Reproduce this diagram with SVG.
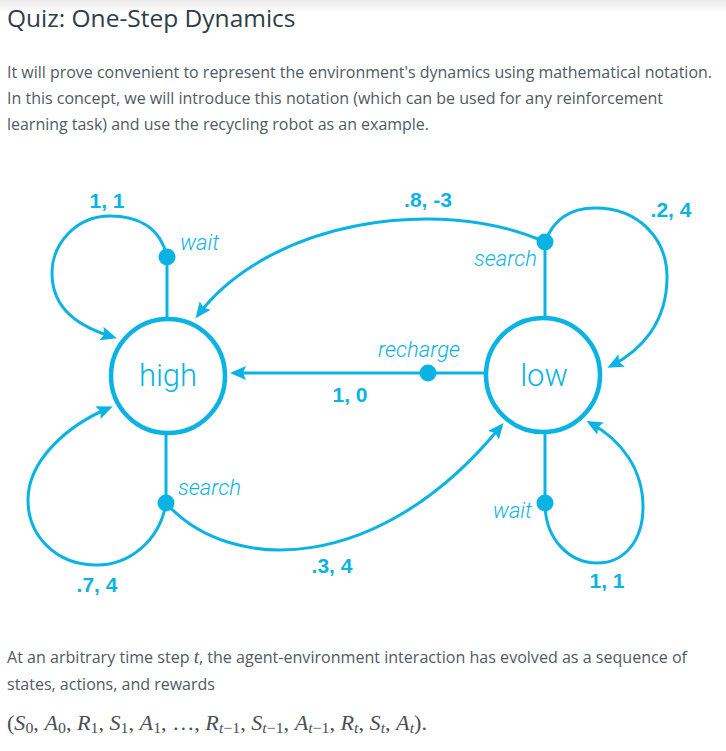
<svg xmlns="http://www.w3.org/2000/svg" width="726" height="751" viewBox="0 0 726 751">
<defs>
<linearGradient id="topshade" x1="0" y1="0" x2="0" y2="1">
<stop offset="0" stop-color="#ececec"/>
<stop offset="1" stop-color="#ffffff"/>
</linearGradient>
<marker id="ah" markerUnits="userSpaceOnUse" markerWidth="16" markerHeight="14" viewBox="0 0 16 14" refX="12" refY="7" orient="auto">
<path d="M0,0 L16,7 L0,14 L3,7 z" fill="#0bb3e4"/>
</marker>
<style>
.title{font-family:"Open Sans","Liberation Sans",sans-serif;font-size:24.5px;font-weight:500;fill:#2e3d49}
.body{font-family:"Open Sans","Liberation Sans",sans-serif;font-size:16px;fill:#4f5a64}
.mi{font-family:"Liberation Serif","DejaVu Serif",serif;font-style:italic}
.mr{font-family:"Liberation Serif","DejaVu Serif",serif}
.math{font-family:"Liberation Serif","DejaVu Serif",serif;font-size:21px;fill:#4a4f55}
.sub{font-size:15px}
.edge{fill:none;stroke:#0bb3e4;stroke-width:3}
.arr{marker-end:url(#ah)}
.state{fill:#ffffff;stroke:#0bb3e4;stroke-width:4.5}
.dot{fill:#0bb3e4}
.sname{font-family:Roboto,"Liberation Sans",sans-serif;font-weight:300;font-size:31px;fill:#0bb3e4;text-anchor:middle}
.act{font-family:Roboto,"Liberation Sans",sans-serif;font-weight:300;font-style:italic;font-size:22px;fill:#0bb3e4}
.lbl{font-family:"Liberation Sans",Arial,sans-serif;font-weight:bold;font-size:21px;fill:#0bb3e4;text-anchor:middle}
</style>
</defs>
<rect x="0" y="0" width="726" height="751" fill="#ffffff"/>
<rect x="0" y="0" width="726" height="14" fill="url(#topshade)"/>

<text class="title" x="7" y="27">Quiz: One-Step Dynamics</text>
<text class="body" x="7" y="78" textLength="705" lengthAdjust="spacingAndGlyphs">It will prove convenient to represent the environment's dynamics using mathematical notation.</text>
<text class="body" x="7" y="104" textLength="656" lengthAdjust="spacingAndGlyphs">In this concept, we will introduce this notation (which can be used for any reinforcement</text>
<text class="body" x="7" y="130" textLength="422" lengthAdjust="spacingAndGlyphs">learning task) and use the recycling robot as an example.</text>

<g id="connectors">
<line class="edge" x1="167" y1="257" x2="167" y2="319"/>
<line class="edge" x1="545" y1="242" x2="545" y2="318"/>
<line class="edge" x1="166" y1="503" x2="166" y2="433"/>
<line class="edge" x1="545" y1="503" x2="545" y2="432"/>
<path class="edge arr" d="M167,257 C160,225 135,216 110,216 C75,216 52,245 52,273 C52,310 80,327 113,337"/>
<path class="edge arr" d="M545,242 C440,195 270,220 198,315"/>
<path class="edge arr" d="M545,242 C555,215 575,208 595,208 C640,208 667,240 667,277 C667,322 642,350 611,366"/>
<path class="edge arr" d="M484,373 L234,373"/>
<path class="edge arr" d="M166,503 C160,540 130,565 97,565 C55,565 28,535 28,500 C28,460 68,425 109,408"/>
<path class="edge arr" d="M166,503 C230,575 380,575 501,426"/>
<path class="edge arr" d="M545,503 C545,540 570,563 597,563 C625,563 643,540 643,507 C643,470 622,440 590,423"/>
<circle class="dot" cx="167" cy="257" r="8.5"/>
<circle class="dot" cx="545" cy="242" r="8.5"/>
<circle class="dot" cx="428" cy="373" r="8.5"/>
<circle class="dot" cx="166" cy="503" r="8.5"/>
<circle class="dot" cx="545" cy="503" r="8.5"/>
<text class="act" x="180" y="250">wait</text>
<text class="act" x="537" y="266" text-anchor="end">search</text>
<text class="act" x="419" y="357" text-anchor="middle">recharge</text>
<text class="act" x="178" y="495">search</text>
<text class="act" x="532" y="518" text-anchor="end">wait</text>
<text class="lbl" x="107" y="208">1, 1</text>
<text class="lbl" x="428" y="207">.8, -3</text>
<text class="lbl" x="671" y="217">.2, 4</text>
<text class="lbl" x="350" y="402">1, 0</text>
<text class="lbl" x="97" y="592">.7, 4</text>
<text class="lbl" x="332" y="573">.3, 4</text>
<text class="lbl" x="607" y="588">1, 1</text>
</g>

<g id="node-high">
<circle class="state" cx="168" cy="376" r="57"/>
<text class="sname" x="168" y="386">high</text>
</g>
<g id="node-low">
<circle class="state" cx="543" cy="375" r="57"/>
<text class="sname" x="544" y="386">low</text>
</g>

<text class="body" x="7" y="663" textLength="680" lengthAdjust="spacingAndGlyphs">At an arbitrary time step <tspan class="mi" font-size="19">t</tspan>, the agent-environment interaction has evolved as a sequence of</text>
<text class="body" x="7" y="690">states, actions, and rewards</text>

<text class="math" x="7" y="730" textLength="420" lengthAdjust="spacingAndGlyphs"><tspan class="mr">(</tspan><tspan class="mi">S</tspan><tspan class="sub mr" dy="3">0</tspan><tspan dy="-3">, </tspan><tspan class="mi">A</tspan><tspan class="sub mr" dy="3">0</tspan><tspan dy="-3">, </tspan><tspan class="mi">R</tspan><tspan class="sub mr" dy="3">1</tspan><tspan dy="-3">, </tspan><tspan class="mi">S</tspan><tspan class="sub mr" dy="3">1</tspan><tspan dy="-3">, </tspan><tspan class="mi">A</tspan><tspan class="sub mr" dy="3">1</tspan><tspan dy="-3">, …, </tspan><tspan class="mi">R</tspan><tspan class="sub mi" dy="3">t</tspan><tspan class="sub mr">−1</tspan><tspan dy="-3">, </tspan><tspan class="mi">S</tspan><tspan class="sub mi" dy="3">t</tspan><tspan class="sub mr">−1</tspan><tspan dy="-3">, </tspan><tspan class="mi">A</tspan><tspan class="sub mi" dy="3">t</tspan><tspan class="sub mr">−1</tspan><tspan dy="-3">, </tspan><tspan class="mi">R</tspan><tspan class="sub mi" dy="3">t</tspan><tspan dy="-3">, </tspan><tspan class="mi">S</tspan><tspan class="sub mi" dy="3">t</tspan><tspan dy="-3">, </tspan><tspan class="mi">A</tspan><tspan class="sub mi" dy="3">t</tspan><tspan class="mr" dy="-3">).</tspan></text>
</svg>
